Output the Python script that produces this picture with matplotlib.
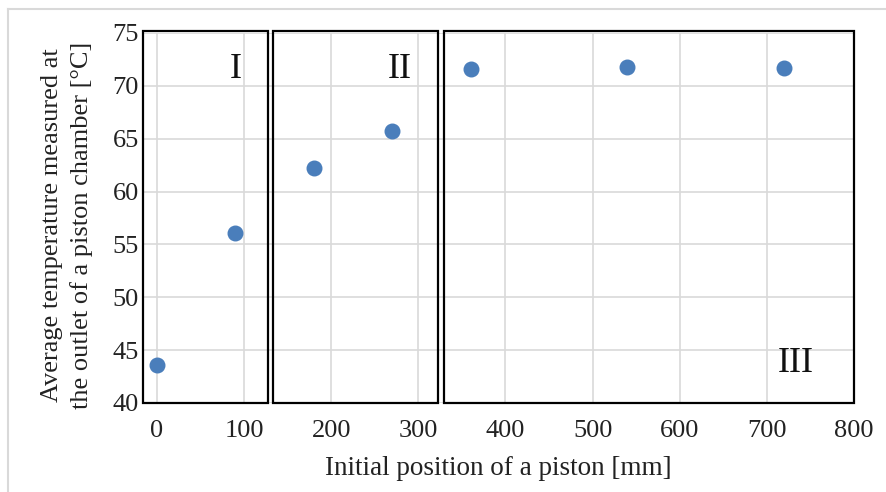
import matplotlib.pyplot as plt
from matplotlib.patches import Rectangle
from matplotlib.lines import Line2D

# data
pos = [0, 90, 180, 270, 360, 540, 720]
temp = [43.6, 56.1, 62.2, 65.7, 71.6, 71.8, 71.7]

# zone frames (x start, x end) and labels
zones = [(-16, 127), (133, 323), (329, 800)]
zone_names = ['I', 'II', 'III']
zone_text_xy = [(90, 71.5), (279, 71.5), (733, 43.7)]

plt.rcParams['font.family'] = ['Liberation Serif', 'DejaVu Serif']

fig = plt.figure(figsize=(8.86, 4.92), dpi=100)
ax = fig.add_axes([0.1614, 0.181, 0.8025, 0.752])

ax.scatter(pos, temp, s=110, color='#4a7ebb', zorder=3)

ax.set_xlim(-16, 800)
ax.set_ylim(40, 75)
ax.set_xticks(range(0, 801, 100))
ax.set_yticks(range(40, 76, 5))
ax.grid(True, color='#d9d9d9', lw=1.2)
ax.set_axisbelow(True)
for s in ax.spines.values():
    s.set_visible(False)
ax.tick_params(length=0, labelsize=19, colors='#222222')
ax.tick_params(axis='y', pad=3)
ax.tick_params(axis='x', pad=12)

ax.set_xlabel('Initial position of a piston [mm]', fontsize=19.5, color='#222222', labelpad=10)
ax.set_ylabel('Average temperature measured at\nthe outlet of a piston chamber [°C]',
              fontsize=19, color='#222222', linespacing=1.4)
ax.yaxis.set_label_coords(-0.07, 0.48)

for (x0, x1), name, (tx, ty) in zip(zones, zone_names, zone_text_xy):
    ax.add_patch(Rectangle((x0, 40), x1 - x0, 35.2, fill=False, ec='black',
                           lw=1.6, clip_on=False, zorder=4))
    ax.text(tx, ty, name, fontsize=26, ha='center', va='center', color='#111111')

# light outer frame
fig.add_artist(Line2D([8 / 886, 1], [1 - 9 / 492, 1 - 9 / 492], color='#d9d9d9', lw=1.5))
fig.add_artist(Line2D([8 / 886, 8 / 886], [0, 1 - 9 / 492], color='#d9d9d9', lw=1.5))

fig.savefig('out.png', dpi=100)
